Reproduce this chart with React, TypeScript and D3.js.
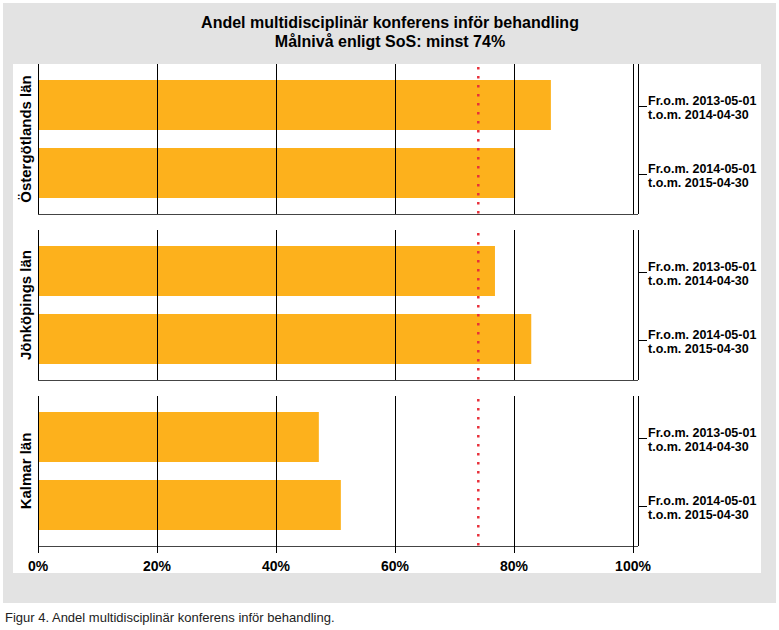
import React from "react";
import * as d3 from "d3";

const titleLines = ["Andel multidisciplinär konferens inför behandling", "Målnivå enligt SoS: minst 74%"];
const regions = ["Östergötlands län", "Jönköpings län", "Kalmar län"];
const periods = ["Fr.o.m. 2013-05-01|t.o.m. 2014-04-30", "Fr.o.m. 2014-05-01|t.o.m. 2015-04-30"];
const valuesPeriod1 = [86.2, 76.8, 47.2];
const valuesPeriod2 = [80.2, 82.9, 50.9];
const target = 74;
const xTicks = [0, 20, 40, 60, 80, 100];
const caption = "Figur 4. Andel multidisciplinär konferens inför behandling.";

export default function App() {
  const W = 779, H = 630;
  const x = d3.scaleLinear().domain([0, 100]).range([38, 633]);
  const panelY = d3.scaleBand<string>().domain(regions).range([64, 546]).paddingInner(16 / 166).paddingOuter(0);
  const ph = panelY.bandwidth();
  const barY = d3.scaleBand<string>().domain(periods).range([0, ph]).paddingInner(18 / 68).paddingOuter(16 / 68);
  const rightX = 638;
  const font = "'Liberation Sans', Arial, sans-serif";
  const series = [valuesPeriod1, valuesPeriod2];

  return (
    <svg width={W} height={H} style={{ position: "absolute", left: 0, top: 0 }} fontFamily={font}>
      <rect x={0} y={0} width={W} height={H} fill="#fff" />
      <rect x={3} y={3} width={773} height={600} fill="#e3e3e3" />
      <rect x={13} y={64} width={748} height={509} fill="#fff" />
      <text x={390} y={28} textAnchor="middle" fontSize={16} fontWeight="bold" fill="#000">
        <tspan x={390} y={28}>{titleLines[0]}</tspan>
        <tspan x={390} y={47}>{titleLines[1]}</tspan>
      </text>
      {regions.map((r, ri) => {
        const y0 = panelY(r)!;
        return (
          <g key={r}>
            {series.map((vals, pi) => (
              <rect key={pi} x={x(0)} y={y0 + barY(periods[pi])!} width={x(vals[ri]) - x(0)} height={barY.bandwidth()} fill="#fdb11c" />
            ))}
            {xTicks.map((t) => (
              <line key={t} x1={x(t)} x2={x(t)} y1={y0} y2={y0 + ph} stroke="#000" strokeWidth={1} shapeRendering="crispEdges" />
            ))}
            <line x1={rightX} x2={rightX} y1={y0} y2={y0 + ph} stroke="#000" strokeWidth={1} shapeRendering="crispEdges" />
            <line x1={x(0)} x2={rightX} y1={y0 + ph} y2={y0 + ph} stroke="#444" strokeWidth={1} shapeRendering="crispEdges" />
            <line x1={x(target)} x2={x(target)} y1={y0 + 3} y2={y0 + ph} stroke="#e8303a" strokeWidth={2.5} strokeDasharray="2.5,6.5" />
            <text transform={`translate(${31},${y0 + ph / 2}) rotate(-90)`} textAnchor="middle" fontSize={15} fontWeight="bold" fill="#000">{r}</text>
            {periods.map((p) => {
              const cy = y0 + barY(p)! + barY.bandwidth() / 2;
              const [l1, l2] = p.split("|");
              return (
                <g key={p}>
                  <line x1={rightX} x2={rightX + 9} y1={cy + 1} y2={cy + 1} stroke="#000" strokeWidth={1} shapeRendering="crispEdges" />
                  <text x={rightX + 10} y={cy} fontSize={12.5} fontWeight="bold" fill="#000">{l1}</text>
                  <text x={rightX + 10} y={cy + 14.2} fontSize={12.5} fontWeight="bold" fill="#000">{l2}</text>
                </g>
              );
            })}
          </g>
        );
      })}
      {xTicks.map((t) => (
        <g key={t}>
          <line x1={x(t)} x2={x(t)} y1={546} y2={553} stroke="#000" strokeWidth={1} shapeRendering="crispEdges" />
          <text x={x(t)} y={571} textAnchor="middle" fontSize={14} fontWeight="bold" fill="#000">{`${t}%`}</text>
        </g>
      ))}
      <text x={5} y={622} fontSize={13} fill="#222" fontFamily="'Liberation Sans Narrow', 'Arial Narrow', sans-serif">{caption}</text>
    </svg>
  );
}
